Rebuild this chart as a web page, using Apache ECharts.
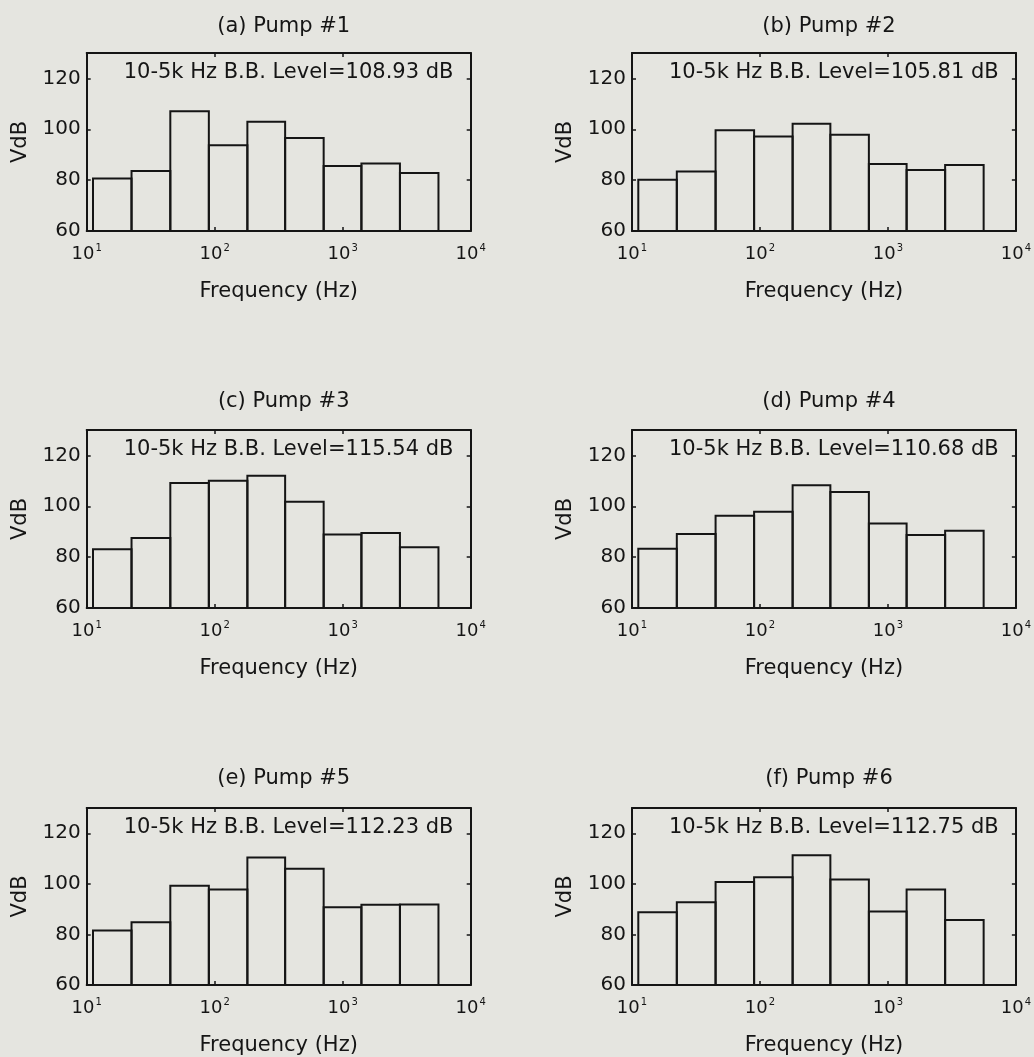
<!DOCTYPE html>
<html>
<head>
<meta charset="utf-8">
<script src="https://cdn.jsdelivr.net/npm/echarts@6/dist/echarts.min.js"></script>
<style>
html,body{margin:0;padding:0;background:#e5e5e0;}
#chart{width:1034px;height:1057px;}
</style>
</head>
<body>
<div id="chart"></div>
<script>
// ---- data ----
const bandEdges = [11.2, 22.4, 45, 90, 180, 355, 710, 1400, 2800, 5600]; // octave band edges (Hz)
const pump1 = [80.6, 83.6, 107.1, 93.7, 103.0, 96.6, 85.6, 86.5, 82.8];
const pump2 = [80.2, 83.4, 99.6, 97.2, 102.2, 97.9, 86.3, 84.0, 86.0];
const pump3 = [83.1, 87.5, 109.2, 110.0, 112.0, 101.8, 88.9, 89.5, 83.9];
const pump4 = [83.3, 89.1, 96.3, 97.9, 108.3, 105.6, 93.2, 88.7, 90.4];
const pump5 = [81.6, 84.8, 99.3, 97.8, 110.4, 106.0, 90.7, 91.7, 91.8];
const pump6 = [88.8, 92.7, 100.7, 102.6, 111.3, 101.7, 89.1, 97.8, 85.7];
const panelTitles = ['(a) Pump #1', '(b) Pump #2', '(c) Pump #3', '(d) Pump #4', '(e) Pump #5', '(f) Pump #6'];
const bbLevels = ['108.93', '105.81', '115.54', '110.68', '112.23', '112.75'];
const yTickLabels = [60, 80, 100, 120];
const xLabelName = 'Frequency (Hz)';
const yLabelName = 'VdB';

const pumps = [pump1, pump2, pump3, pump4, pump5, pump6];

// ---- layout ----
const FONT = 'DejaVu Sans';
const INK = '#151515';
const colLeft = [86.7, 632];
const colWidth = 384;
const rowTop = [53, 430, 808];
const titleTop = [11, 386, 763];
const rowHeight = 178;
const Y_MIN = 60, Y_MAX = 130;

const grids = [], xAxes = [], yAxes = [], series = [], titles = [], graphics = [];

pumps.forEach((vals, i) => {
  const col = i % 2, row = Math.floor(i / 2);
  const left = colLeft[col], top = rowTop[row];
  grids.push({left: left, top: top, width: colWidth, height: rowHeight, containLabel: false});

  const lineStyle = {color: INK, width: 2};
  const tick = {show: true, inside: true, length: 4, lineStyle: {color: INK, width: 1.5}};
  // bottom x
  xAxes.push({
    gridIndex: i, type: 'log', logBase: 10, min: 10, max: 10000, splitNumber: 3,
    position: 'bottom',
    axisLine: {show: true, lineStyle: lineStyle},
    axisTick: tick,
    splitLine: {show: false},
    axisLabel: {
      show: true, margin: 12, color: INK,
      formatter: v => '{b|10}{s|' + Math.round(Math.log10(v)) + '}',
      rich: {
        b: {fontFamily: FONT, fontSize: 18, color: INK, lineHeight: 20, verticalAlign: 'bottom'},
        s: {fontFamily: FONT, fontSize: 10, color: INK, lineHeight: 11, verticalAlign: 'top', padding: [0, 0, 0, 1]}
      }
    },
    name: xLabelName, nameLocation: 'middle', nameGap: 50,
    nameTextStyle: {fontFamily: FONT, fontSize: 21, color: INK}
  });
  // top x (box + ticks)
  xAxes.push({
    gridIndex: i, type: 'log', logBase: 10, min: 10, max: 10000, splitNumber: 3,
    position: 'top',
    axisLine: {show: true, lineStyle: lineStyle},
    axisTick: tick, axisLabel: {show: false}, splitLine: {show: false}
  });
  // left y
  yAxes.push({
    gridIndex: i, type: 'value', min: Y_MIN, max: Y_MAX, interval: 20,
    position: 'left',
    axisLine: {show: true, lineStyle: lineStyle},
    axisTick: tick, splitLine: {show: false},
    axisLabel: {
      show: true, margin: 6, color: INK, fontFamily: FONT, fontSize: 20,
      formatter: v => (yTickLabels.indexOf(v) >= 0 ? String(v) : '')
    },
    name: yLabelName, nameLocation: 'middle', nameGap: 56, nameRotate: 90,
    nameTextStyle: {fontFamily: FONT, fontSize: 21, color: INK}
  });
  // right y
  yAxes.push({
    gridIndex: i, type: 'value', min: Y_MIN, max: Y_MAX, interval: 20,
    position: 'right',
    axisLine: {show: true, lineStyle: lineStyle},
    axisTick: tick, axisLabel: {show: false}, splitLine: {show: false}
  });

  const data = vals.map((v, k) => [bandEdges[k], bandEdges[k + 1], v]);
  series.push({
    type: 'custom',
    xAxisIndex: i * 2, yAxisIndex: i * 2,
    data: data,
    encode: {x: [0, 1], y: 2},
    clip: true,
    renderItem: (params, api) => {
      const p1 = api.coord([api.value(0), api.value(2)]);
      const p2 = api.coord([api.value(1), Y_MIN]);
      return {
        type: 'rect',
        shape: {x: p1[0], y: p1[1], width: p2[0] - p1[0], height: p2[1] - p1[1]},
        style: {fill: 'none', stroke: INK, lineWidth: 2}
      };
    }
  });

  titles.push({
    text: panelTitles[i],
    left: left + colWidth / 2, top: titleTop[row],
    textAlign: 'center',
    textStyle: {fontFamily: FONT, fontSize: 21, fontWeight: 'normal', color: INK}
  });

  graphics.push({
    type: 'text',
    x: left + 37, y: top + 19.5,
    style: {
      text: '10-5k Hz B.B. Level=' + bbLevels[i] + ' dB',
      fontFamily: FONT, fontSize: 21, fill: INK,
      verticalAlign: 'middle', align: 'left'
    }
  });
});

const chart = echarts.init(document.getElementById('chart'), null, {renderer: 'canvas'});
chart.setOption({
  backgroundColor: '#e5e5e0',
  animation: false,
  title: titles,
  grid: grids,
  xAxis: xAxes,
  yAxis: yAxes,
  series: series,
  graphic: graphics
});
</script>
</body>
</html>
